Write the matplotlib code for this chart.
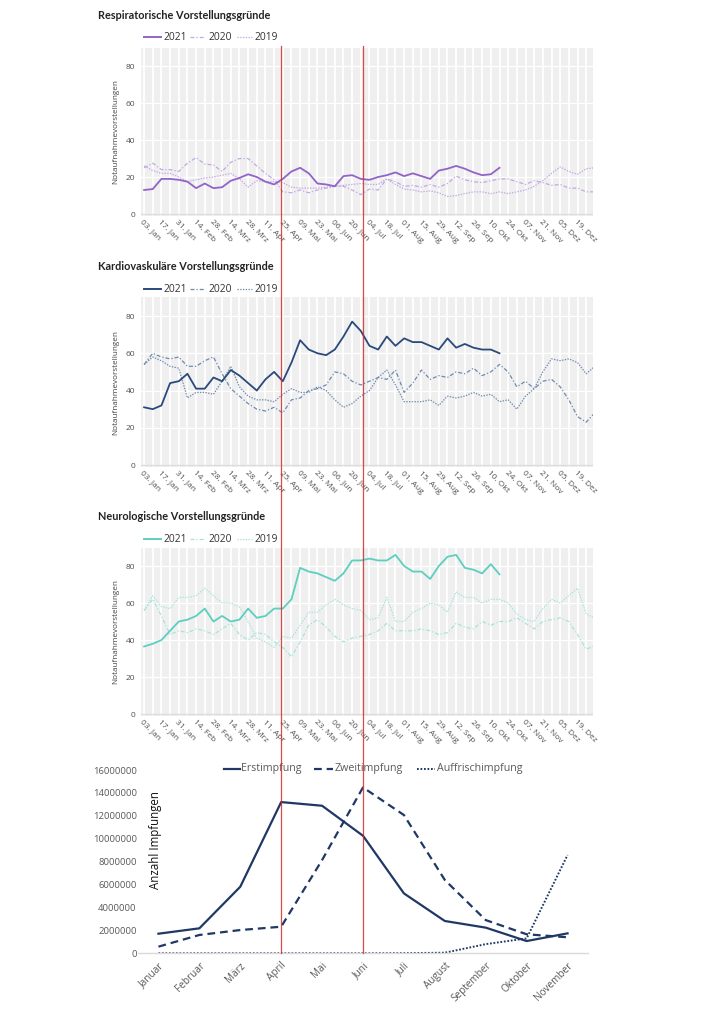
import numpy as np
import matplotlib
matplotlib.use('Agg')
import matplotlib.pyplot as plt
from matplotlib.lines import Line2D
from matplotlib.ticker import FuncFormatter
import matplotlib.transforms as mtransforms

plt.rcParams['font.family'] = ['Open Sans', 'DejaVu Sans']

# ---------------- data ----------------
# weekly sample days (day of year), starting 03. Jan
week_days = np.arange(3, 368, 7)

tick_days = np.arange(3, 354, 14)
tick_labels = ['03. Jan', '17. Jan', '31. Jan', '14. Feb', '28. Feb', '14. Mrz', '28. Mrz',
               '11. Apr', '25. Apr', '09. Mai', '23. Mai', '06. Jun', '20. Jun', '04. Jul',
               '18. Jul', '01. Aug', '15. Aug', '29. Aug', '12. Sep', '26. Sep', '10. Okt',
               '24. Okt', '07. Nov', '21. Nov', '05. Dez', '19. Dez']

resp_2021 = [13, 13.5, 19, 19, 18.5, 17.5, 14, 16.5, 14, 14.5, 18, 19.5, 21.5, 20, 17.5, 16,
             19, 23, 25, 22, 16.5, 16, 15, 20.5, 21, 19, 18.5, 20, 21, 22.5, 20.5, 22, 20.5,
             19, 23.5, 24.5, 26, 24.5, 22.5, 21, 21.5, 25]
resp_2020 = [25, 27.5, 24, 24, 23, 27.5, 30.5, 27, 26.5, 23, 28, 30, 30, 26, 22, 18.5, 12,
             11.5, 13, 11.5, 13, 14, 15, 15, 13, 10.5, 13.5, 13, 19, 17.5, 15, 15.5, 14.5, 16,
             14.5, 16.5, 20.5, 18.5, 17.5, 17, 18, 19, 19, 17.5, 16, 18, 17, 15.5, 16, 14, 14,
             12, 12]
resp_2019 = [26, 23.5, 22, 22, 20, 17.5, 18.5, 19.5, 20, 21, 22, 19, 14.5, 18, 17.5, 17.5, 17,
             14.5, 14, 14, 14, 14.5, 15, 15.5, 16, 16.5, 16, 16, 19, 16, 13.5, 13, 12, 12.5,
             11.5, 9.5, 10, 11, 12, 12, 11, 12, 11, 12, 13, 15, 18, 22, 25.5, 23, 21.5, 24.5, 25]

card_2021 = [31, 30, 32, 44, 45, 49, 41, 41, 47, 45, 51, 48, 44, 40, 46, 50, 45, 55, 67, 62,
             60, 59, 62, 69, 77, 72, 64, 62, 69, 64, 68, 66, 66, 64, 62, 68, 63, 65, 63, 62, 62, 60]
card_2020 = [54, 60, 58, 57, 58, 53, 53, 56, 58, 49, 41, 37, 33, 30, 29, 31, 28, 35, 36, 40, 41,
             43, 50, 49, 45, 43, 45, 47, 46, 51, 39, 44, 51, 46, 48, 47, 50, 49, 52, 48, 50, 54,
             50, 42, 45, 41, 45, 46, 42, 35, 26, 23, 28]
card_2019 = [54, 58, 56, 53, 52, 36, 39, 39, 38, 45, 53, 42, 37, 35, 35, 34, 38, 41, 39, 39, 42,
             40, 35, 31, 33, 37, 40, 47, 51, 43, 34, 34, 34, 35, 32, 37, 36, 37, 39, 37, 38, 34,
             35, 30, 37, 41, 50, 57, 56, 57, 55, 49, 53]

neuro_2021 = [36.5, 38, 40, 45, 50, 51, 53, 57, 50, 53, 50, 51, 57, 52, 53, 57, 57, 62, 79, 77,
              76, 74, 72, 76, 83, 83, 84, 83, 83, 86, 80, 77, 77, 73, 80, 85, 86, 79, 78, 76, 81,
              75.5]
neuro_2020 = [56, 62, 53, 43, 45, 44, 46, 45, 43, 46, 49, 43, 40, 44, 43, 39, 36, 31, 39, 48, 51,
              47, 42, 39, 41, 42, 43, 45, 49, 45, 45, 45, 46, 45, 43, 44, 49, 47, 46, 50, 48, 50,
              50, 52, 49, 46, 50, 51, 52, 50, 43, 35, 37]
neuro_2019 = [56, 64, 58, 57, 63, 63, 64, 68, 64, 60, 60, 58, 50, 41, 39, 36, 42, 41, 48, 55, 55,
              59, 62, 59, 57, 56, 51, 52, 63, 50, 50, 55, 57, 60, 59, 55, 66, 63, 63, 60, 62, 62,
              60, 54, 51, 50, 57, 62, 60, 64, 68, 54, 52]

months = ['Januar', 'Februar', 'März', 'April', 'Mai', 'Juni', 'Juli', 'August',
          'September', 'Oktober', 'November']
erstimpfung = [1710000, 2180000, 5810000, 13200000, 12880000, 10260000, 5230000, 2820000,
               2240000, 1070000, 1740000]
zweitimpfung = [580000, 1600000, 2030000, 2320000, 8140000, 14480000, 12070000, 6400000,
                2900000, 1660000, 1400000]
auffrischimpfung = [0, 0, 0, 0, 0, 0, 10000, 50000, 800000, 1300000, 8580000]

# ---------------- layout helpers ----------------
W, H = 724, 1024
fig = plt.figure(figsize=(7.24, 10.24), dpi=100)
fig.patch.set_facecolor('white')


def fx(x):
    return x / W


def fy(y):
    return 1 - y / H


def axes_px(left, top, right, bottom):
    return fig.add_axes([fx(left), fy(bottom), (right - left) / W, (bottom - top) / H])


DASHDOT = (0, (3.2, 1.6, 1.0, 1.6))
DOTTED = (0, (1.1, 1.1))


def panel(top, bottom, title, title_y, legend_y, s21, s20, s19, c21, clight):
    ax = axes_px(141, top, 593, bottom)
    ax.set_facecolor('#efefef')
    ax.set_xlim(0.5, 365.5)
    ax.set_ylim(-1, 90)
    ax.set_xticks(tick_days)
    ax.set_xticks(week_days[week_days <= 365], minor=True)
    ax.set_xticklabels(tick_labels, rotation=-45, ha='left', va='top',
                       rotation_mode='anchor', fontsize=6.0, color='#505050')
    ax.set_yticks([0, 20, 40, 60, 80])
    ax.set_yticklabels(['0', '20', '40', '60', '80'], fontsize=6.0, color='#505050')
    ax.tick_params(axis='both', which='both', length=0)
    ax.tick_params(axis='x', pad=2.0)
    ax.tick_params(axis='y', pad=4)
    ax.grid(True, axis='x', which='both', color='white', lw=1.3)
    ax.grid(True, axis='y', which='major', color='white', lw=0.9)
    ax.axhline(0, color='#dcdcdc', lw=1.0, zorder=1)
    for sp in ax.spines.values():
        sp.set_visible(False)
    ax.set_axisbelow(True)
    ax.plot(week_days[:len(s19)], s19, color=clight, lw=0.9, linestyle=DOTTED, zorder=2)
    ax.plot(week_days[:len(s20)], s20, color=clight, lw=0.9, linestyle=DASHDOT, zorder=2)
    ax.plot(week_days[:len(s21)], s21, color=c21, lw=1.3, zorder=3)
    ax.set_ylabel('Notaufnahmevorstellungen', fontsize=5.9, color='#444444', labelpad=5)

    fig.text(fx(98), fy(title_y), title, fontsize=7.8, fontweight='bold', color='#222222',
             va='center', ha='left', family=['Lato', 'DejaVu Sans'])
    ly = fy(legend_y)
    fig.add_artist(Line2D([fx(144), fx(161)], [ly, ly], color=c21, lw=1.4,
                          transform=fig.transFigure))
    fig.text(fx(163.5), ly, '2021', fontsize=7.4, color='#333333', va='center', ha='left')
    fig.add_artist(Line2D([fx(190), fx(205)], [ly, ly], color=clight, lw=0.9,
                          linestyle=DASHDOT, transform=fig.transFigure))
    fig.text(fx(208.5), ly, '2020', fontsize=7.4, color='#333333', va='center', ha='left')
    fig.add_artist(Line2D([fx(237), fx(252)], [ly, ly], color=clight, lw=0.9,
                          linestyle=DOTTED, transform=fig.transFigure))
    fig.text(fx(254.5), ly, '2019', fontsize=7.4, color='#333333', va='center', ha='left')
    return ax


panel(47.5, 215.9, 'Respiratorische Vorstellungsgründe', 15.5, 37.3,
      resp_2021, resp_2020, resp_2019, '#9263c8', '#c4a7e4')
panel(297.4, 466.9, 'Kardiovaskuläre Vorstellungsgründe', 266.5, 289.3,
      card_2021, card_2020, card_2019, '#2a4a7a', '#6f8ab0')
panel(547.5, 715.9, 'Neurologische Vorstellungsgründe', 516.5, 539.3,
      neuro_2021, neuro_2020, neuro_2019, '#5ccfc0', '#a6e4db')

# ---------------- vaccination chart ----------------
navy = '#1f3864'
axb = axes_px(138, 770, 588, 953.3)
x = np.arange(len(months))
axb.plot(x, erstimpfung, color=navy, lw=1.6, solid_joinstyle='round')
axb.plot(x, zweitimpfung, color=navy, lw=1.6, linestyle=(0, (3.5, 2.2)))
axb.plot(x, auffrischimpfung, color=navy, lw=1.4, linestyle=(0, (0.9, 0.9)))
axb.set_xlim(-0.5, len(months) - 0.5)
axb.set_ylim(0, 16000000)
axb.set_yticks(np.arange(0, 16000001, 2000000))
axb.yaxis.set_major_formatter(FuncFormatter(lambda v, p: '%d' % v))
axb.set_xticks(x)
axb.set_xticklabels(months, rotation=45, ha='right', va='top', rotation_mode='anchor',
                    fontsize=7.2, color='#595959')
for lab in axb.get_yticklabels():
    lab.set_fontsize(6.8)
    lab.set_color('#595959')
axb.tick_params(axis='both', length=0)
axb.tick_params(axis='x', pad=5)
axb.tick_params(axis='y', pad=1)
for name, sp in axb.spines.items():
    sp.set_visible(name == 'bottom')
axb.spines['bottom'].set_color('#d9d9d9')
axb.spines['bottom'].set_linewidth(1.0)
axb.set_facecolor('none')

fig.text(fx(155), fy(840), 'Anzahl Impfungen', rotation=90, fontsize=8.3, color='#111111',
         ha='center', va='center')

ly = fy(769)
fig.add_artist(Line2D([fx(224), fx(240)], [ly, ly], color=navy, lw=1.6,
                      transform=fig.transFigure))
fig.text(fx(241), ly, 'Erstimpfung', fontsize=7.7, color='#595959', va='center', ha='left')
fig.add_artist(Line2D([fx(314), fx(333)], [ly, ly], color=navy, lw=1.6,
                      linestyle=(0, (3.5, 2.2)), transform=fig.transFigure))
fig.text(fx(335), ly, 'Zweitimpfung', fontsize=7.7, color='#595959', va='center', ha='left')
fig.add_artist(Line2D([fx(417), fx(435)], [ly, ly], color=navy, lw=1.4,
                      linestyle=(0, (0.9, 0.9)), transform=fig.transFigure))
fig.text(fx(437), ly, 'Auffrischimpfung', fontsize=7.7, color='#595959', va='center',
         ha='left')

# red marker lines at April and Juni running through all panels
trans = mtransforms.blended_transform_factory(axb.transData, fig.transFigure)
for idx in (months.index('April'), months.index('Juni')):
    fig.add_artist(Line2D([idx, idx], [fy(46), fy(953.3)], color='#d42a2a', lw=0.9,
                          alpha=0.85, transform=trans, zorder=10))

fig.savefig('out.png', dpi=100, facecolor='white')
